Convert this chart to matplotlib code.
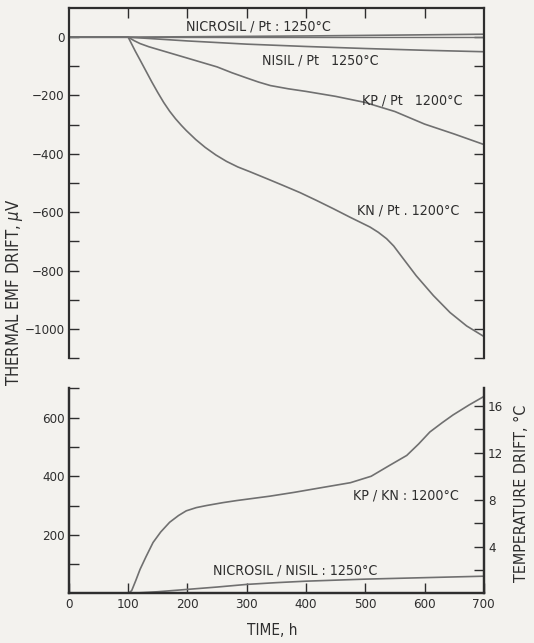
import matplotlib
matplotlib.use("Agg")
import matplotlib.pyplot as plt
from matplotlib.ticker import MultipleLocator, FixedLocator

# --- data (time in h, EMF drift in uV) ---
nicrosil_pt_t = [0, 100, 250, 400, 550, 700]
nicrosil_pt_v = [0, 0, 2, 4, 7, 10]

nisil_pt_t = [0, 100, 200, 300, 400, 500, 600, 700]
nisil_pt_v = [0, 0, -13, -24, -32, -39, -45, -50]

kp_pt_t = [0, 100, 110, 120, 135, 150, 175, 200, 225, 250, 275, 300, 320, 340,
           370, 400, 450, 500, 550, 600, 650, 700]
kp_pt_v = [0, 0, -12, -22, -33, -42, -57, -72, -87, -102, -122, -140, -154, -166,
           -177, -186, -203, -224, -255, -298, -332, -368]

kn_pt_t = [0, 100, 105, 112, 120, 130, 140, 150, 160, 170, 180, 190, 198, 214,
           230, 248, 266, 285, 305, 335, 361, 390, 418, 446, 474, 508, 522, 536,
           548, 558, 586, 615, 643, 671, 700]
kn_pt_v = [0, 0, -20, -48, -78, -116, -154, -190, -224, -254, -280, -303, -320, -351,
           -378, -404, -426, -445, -461, -486, -508, -533, -560, -588, -617, -651,
           -669, -691, -716, -743, -818, -886, -944, -990, -1026]

kp_kn_t = [0, 100, 106, 113, 120, 130, 142, 155, 170, 185, 198, 215, 232, 260,
           283, 339, 380, 423, 475, 510, 541, 570, 590, 609, 630, 648, 675, 700]
kp_kn_v = [0, 0, 10, 45, 82, 125, 174, 210, 243, 266, 282, 293, 300, 310,
           317, 332, 345, 360, 378, 400, 437, 471, 510, 551, 583, 609, 643, 672]

nicrosil_nisil_t = [0, 100, 150, 200, 250, 300, 350, 400, 500, 600, 700]
nicrosil_nisil_v = [0, 0, 6, 14, 22, 31, 37, 42, 49, 54, 59]

bg = "#f3f2ee"
ink = "#2e2e2e"
curve = "#707070"
plt.rcParams["font.family"] = ["DejaVu Sans"]
plt.rcParams["font.stretch"] = "condensed"
plt.rcParams["text.color"] = ink
plt.rcParams["xtick.color"] = ink
plt.rcParams["ytick.color"] = ink
plt.rcParams["axes.edgecolor"] = ink

fig = plt.figure(figsize=(5.34, 6.43), dpi=100, facecolor=bg)

ax1 = fig.add_axes([0.129, 0.4432, 0.777, 0.5444], facecolor=bg)
ax2 = fig.add_axes([0.129, 0.0770, 0.777, 0.3191], facecolor=bg)
ax3 = ax2.twinx()

def style(ax):
    for s in ax.spines.values():
        s.set_linewidth(1.6)
    ax.tick_params(which="both", direction="in", length=7, width=1.0,
                   labelsize=9.5, pad=3)

# top panel
for t, v in [(nicrosil_pt_t, nicrosil_pt_v), (nisil_pt_t, nisil_pt_v),
             (kp_pt_t, kp_pt_v), (kn_pt_t, kn_pt_v)]:
    ax1.plot(t, v, color=curve, lw=1.2)
ax1.axhline(0, color=curve, lw=1.0)
ax1.set_xlim(0, 700)
ax1.set_ylim(-1100, 100)
ax1.spines["bottom"].set_visible(False)
style(ax1)
ax1.xaxis.set_major_locator(FixedLocator([100, 200, 300, 400, 500, 600]))
ax1.tick_params(axis="x", bottom=False, top=True, labelbottom=False)
ax1.yaxis.set_major_locator(FixedLocator([0, -200, -400, -600, -800, -1000]))
ax1.yaxis.set_minor_locator(FixedLocator([-100, -300, -500, -700, -900, -1100]))
ax1.tick_params(axis="y", right=True, which="both")

lab = 10.2
ax1.text(320, 38, "NICROSIL / Pt : 1250°C", fontsize=lab, ha="center", va="center")
ax1.text(326, -79, "NISIL / Pt   1250°C", fontsize=lab, ha="left", va="center")
ax1.text(494, -217, "KP / Pt   1200°C", fontsize=lab, ha="left", va="center")
ax1.text(486, -595, "KN / Pt . 1200°C", fontsize=lab, ha="left", va="center")

# bottom panel
ax2.plot(kp_kn_t, kp_kn_v, color=curve, lw=1.2)
ax2.plot(nicrosil_nisil_t, nicrosil_nisil_v, color=curve, lw=1.2)
ax2.set_xlim(0, 700)
ax2.set_ylim(0, 700)
ax2.spines["top"].set_visible(False)
ax3.spines["top"].set_visible(False)
style(ax2)
style(ax3)
ax2.xaxis.set_major_locator(MultipleLocator(100))
ax2.yaxis.set_major_locator(FixedLocator([200, 400, 600]))
ax2.yaxis.set_minor_locator(FixedLocator([100, 300, 500, 700]))
ax3.set_ylim(0, 17.5)
ax3.yaxis.set_major_locator(FixedLocator([4, 8, 12, 16]))
ax3.yaxis.set_minor_locator(FixedLocator([2, 6, 10, 14]))

ax2.text(479, 336, "KP / KN : 1200°C", fontsize=lab, ha="left", va="center")
ax2.text(243, 79, "NICROSIL / NISIL : 1250°C", fontsize=lab, ha="left", va="center")

fig.text(0.028, 0.546, "THERMAL EMF DRIFT, $\\mu$V", rotation=90, fontsize=12,
         ha="center", va="center")
fig.text(0.977, 0.233, "TEMPERATURE DRIFT, °C", rotation=90, fontsize=11.5,
         ha="center", va="center")
fig.text(0.51, 0.02, "TIME, h", fontsize=11, ha="center", va="center")

fig.savefig("out.png", dpi=100, facecolor=bg)
